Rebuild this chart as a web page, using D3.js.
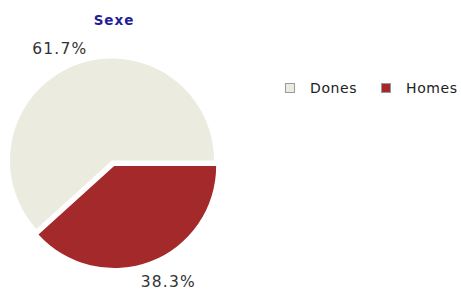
<!DOCTYPE html>
<html>
<head>
<meta charset="utf-8">
<script src="https://cdn.jsdelivr.net/npm/d3@7"></script>
<style>
  html, body { margin: 0; padding: 0; background: #ffffff; }
  svg { display: block; }
</style>
</head>
<body>
<svg id="chart" width="461" height="290"></svg>
<script>
const title = "Sexe";
const categories = ["Dones", "Homes"];
const values = [61.7, 38.3];
const colors = ["#EBEBDF", "#A3292A"];

const svg = d3.select("#chart");
const cx = 112, cy = 160.5, radius = 102, explode = 6;

svg.append("text")
  .attr("x", cx + 2)
  .attr("y", 25)
  .attr("text-anchor", "middle")
  .attr("font-family", "DejaVu Sans, Verdana, sans-serif")
  .attr("font-weight", "bold")
  .attr("font-size", 13.5)
  .attr("letter-spacing", 1)
  .attr("fill", "#1F1F99")
  .text(title);

const data = categories.map((c, i) => ({ name: c, value: values[i], color: colors[i] }));

// Homes starts at 3 o'clock going clockwise; Dones fills the rest.
const start = Math.PI / 2 + 2 * Math.PI * values[1] / 100;
const pie = d3.pie().value(d => d.value).sort(null)
  .startAngle(start)
  .endAngle(start + 2 * Math.PI);

const arcs = pie(data);
const arc = d3.arc().innerRadius(0).outerRadius(radius);
const labelArc = d3.arc().innerRadius(123).outerRadius(123);

const offset = d => {
  if (d.data.name !== "Homes") return [0, 0];
  const mid = (d.startAngle + d.endAngle) / 2;
  return [explode * Math.sin(mid), -explode * Math.cos(mid)];
};

const g = svg.append("g").attr("transform", `translate(${cx},${cy})`);

g.selectAll("path")
  .data(arcs)
  .join("path")
  .attr("d", arc)
  .attr("fill", d => d.data.color)
  .attr("transform", d => {
    const [ox, oy] = offset(d);
    return `translate(${ox},${oy})`;
  });

g.selectAll("text.lbl")
  .data(arcs)
  .join("text")
  .attr("class", "lbl")
  .attr("transform", d => {
    const [x, y] = labelArc.centroid(d);
    const [ox, oy] = offset(d);
    const sx = x < 0 ? -8 : 10;
    const sy = x < 0 ? 8 : 6;
    return `translate(${x + ox + sx},${y + oy + sy})`;
  })
  .attr("text-anchor", "middle")
  .attr("font-family", "DejaVu Sans, Verdana, sans-serif")
  .attr("font-size", 15.5)
  .attr("letter-spacing", 1.2)
  .attr("fill", "#333333")
  .text(d => d3.format(".1f")(d.data.value) + "%");

const legend = svg.append("g").attr("transform", "translate(285,83)");
const itemX = [0, 96];
const items = legend.selectAll("g")
  .data(data)
  .join("g")
  .attr("transform", (d, i) => `translate(${itemX[i]},0)`);
items.append("rect")
  .attr("x", 0.5).attr("y", 0.5)
  .attr("width", 9).attr("height", 9)
  .attr("fill", d => d.color)
  .attr("stroke", "#9a9a9a")
  .attr("stroke-width", 1);
items.append("text")
  .attr("x", 25)
  .attr("y", 10)
  .attr("font-family", "DejaVu Sans, Verdana, sans-serif")
  .attr("font-size", 14)
  .attr("letter-spacing", 0.6)
  .attr("fill", "#222222")
  .text(d => d.name);
</script>
</body>
</html>
